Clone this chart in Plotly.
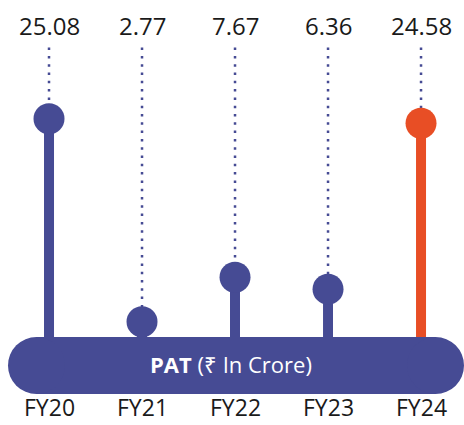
import plotly.graph_objects as go

categories = ["FY20", "FY21", "FY22", "FY23", "FY24"]
values = [25.08, 2.77, 7.67, 6.36, 24.58]
value_labels = ["25.08", "2.77", "7.67", "6.36", "24.58"]
colors = ["#464B94", "#464B94", "#464B94", "#464B94", "#E84E25"]
title_text = "<b>PAT</b> (₹ In Crore)"

W, H = 464, 425
BLUE = "#464B94"
DOT_TOP = 32.9  # value-unit level where dotted guides begin

fig = go.Figure()

# dotted guides
for c, v in zip(categories, values):
    fig.add_trace(go.Scatter(x=[c, c], y=[DOT_TOP, v], mode="lines",
                             line=dict(color=BLUE, width=2.5, dash="2.5px,5.8px"),
                             hoverinfo="skip", showlegend=False))
# stems
for c, v, col in zip(categories, values, colors):
    fig.add_trace(go.Scatter(x=[c, c], y=[0, v], mode="lines",
                             line=dict(color=col, width=10),
                             hoverinfo="skip", showlegend=False))
# heads
fig.add_trace(go.Scatter(x=categories, y=values, mode="markers",
                         marker=dict(size=31, color=colors, line=dict(width=0)),
                         hoverinfo="skip", showlegend=False))

# pill (paper coords, margins are zero so paper == pixels)
def px(x):
    return x / W

def py(y):
    return 1 - y / H

top, bot = 337, 394
r = (bot - top) / 2
left, right = 8, 464
fig.add_shape(type="rect", xref="paper", yref="paper",
              x0=px(left + r), x1=px(right - r), y0=py(bot), y1=py(top),
              fillcolor=BLUE, line=dict(width=0), layer="above")
fig.add_shape(type="circle", xref="paper", yref="paper",
              x0=px(left), x1=px(left + 2 * r), y0=py(bot), y1=py(top),
              fillcolor=BLUE, line=dict(width=0), layer="above")
fig.add_shape(type="circle", xref="paper", yref="paper",
              x0=px(right - 2 * r), x1=px(right), y0=py(bot), y1=py(top),
              fillcolor=BLUE, line=dict(width=0), layer="above")

fig.add_annotation(x=px(231), y=py(364), xref="paper", yref="paper",
                   xanchor="center", yanchor="middle",
                   text=title_text, showarrow=False,
                   font=dict(color="white", size=22, family="Open Sans"))

for c, lab in zip(categories, value_labels):
    fig.add_annotation(x=c, y=py(25), xref="x", yref="paper", text=lab,
                       xanchor="center", yanchor="middle",
                       showarrow=False, font=dict(size=24, color="#1a1a1a", family="Open Sans"))
    fig.add_annotation(x=c, y=0, xref="x", yref="paper", text=c,
                       xanchor="center", yanchor="bottom",
                       showarrow=False, font=dict(size=23, color="#1a1a1a", family="Open Sans"))

fig.update_layout(
    width=W, height=H, margin=dict(l=0, r=0, t=0, b=0),
    paper_bgcolor="white", plot_bgcolor="white",
    xaxis=dict(type="category", range=[-0.527, 4.462], visible=False, fixedrange=True),
    yaxis=dict(range=[-8.57, 38.13], visible=False, fixedrange=True),
)

fig.write_html("out.html", config={"displayModeBar": False},
               post_script="document.body.style.margin='0';document.body.style.overflow='hidden';")
